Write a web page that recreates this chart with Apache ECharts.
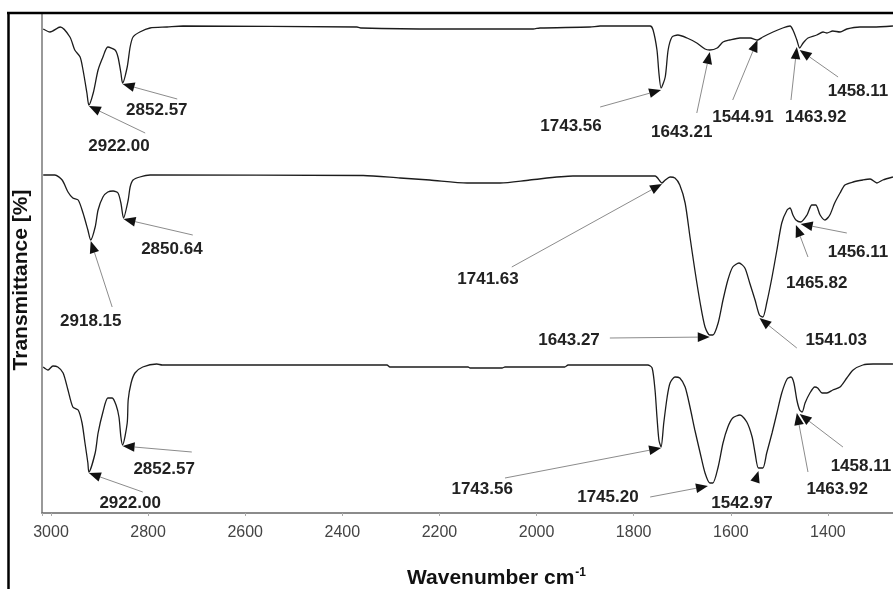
<!DOCTYPE html>
<html>
<head>
<meta charset="utf-8">
<script src="https://cdn.jsdelivr.net/npm/echarts@6/dist/echarts.min.js"></script>
<style>
  html, body { margin: 0; padding: 0; background: #fff; }
  #chart { width: 893px; height: 589px; }
</style>
</head>
<body>
<div id="chart"></div>
<script>
// FTIR spectra: three samples stacked with vertical offsets (wavenumber in cm-1, transmittance in display units)
const topWn = [3016, 3002, 2981, 2961, 2951, 2940, 2934, 2926, 2922.00, 2913, 2903, 2893, 2883, 2868, 2862, 2856, 2852.57, 2843, 2837, 2831, 2817, 2796, 2761, 2728, 2370, 2360, 2205, 2007, 1993, 1890, 1869, 1766, 1760, 1752, 1748, 1743.56, 1735, 1729, 1721, 1709, 1690, 1670, 1653, 1643.21, 1628, 1616, 1602, 1581, 1560, 1544.91, 1534, 1513, 1493, 1478, 1472, 1463.92, 1458.11, 1451, 1441, 1423, 1410, 1402, 1390, 1375, 1361, 1334, 1307, 1266];
const topT  = [96.8, 96.2, 97.2, 95.2, 92.6, 91.2, 88.6, 84.0, 81.6, 84.0, 88.6, 91.2, 93.2, 92.6, 91.2, 88.0, 86.0, 89.2, 93.2, 95.2, 96.2, 97.0, 97.2, 97.4, 97.2, 97.0, 96.8, 96.8, 97.0, 97.2, 97.4, 97.4, 96.6, 92.6, 88.0, 85.0, 87.2, 92.6, 95.2, 95.6, 95.0, 94.0, 92.8, 92.6, 93.0, 94.2, 94.6, 95.0, 95.0, 94.6, 95.2, 96.2, 97.0, 97.4, 96.6, 94.6, 93.0, 94.0, 95.0, 95.6, 96.2, 96.0, 96.4, 96.2, 96.8, 97.2, 97.2, 97.4];

const midWn = [3016, 2992, 2977, 2965, 2955, 2944, 2934, 2924, 2918.15, 2909, 2903, 2893, 2883, 2872, 2862, 2856, 2850.64, 2841, 2837, 2831, 2817, 2796, 2357, 2281, 2220, 2143, 2075, 2014, 1925, 1756, 1741.63, 1735, 1725, 1715, 1705, 1694, 1684, 1674, 1663, 1653, 1643.27, 1637, 1626, 1616, 1606, 1596, 1583, 1571, 1561, 1550, 1541.03, 1534, 1526, 1515, 1505, 1495, 1484, 1478, 1472, 1465.82, 1456.11, 1443, 1433, 1425, 1416, 1406, 1396, 1386, 1375, 1365, 1348, 1328, 1313, 1299, 1287, 1266];
const midT  = [67.6, 67.6, 66.6, 64.2, 63.0, 62.6, 60.0, 56.6, 54.6, 57.2, 60.6, 63.2, 64.2, 64.4, 64.0, 62.0, 59.0, 62.6, 65.2, 66.6, 67.2, 67.6, 67.5, 67.0, 66.6, 66.0, 66.0, 66.6, 67.4, 67.4, 66.0, 66.6, 67.2, 67.0, 65.6, 62.0, 55.2, 48.6, 42.0, 37.2, 35.6, 35.6, 38.0, 42.6, 46.6, 49.2, 50.0, 49.0, 46.0, 42.6, 39.6, 39.2, 42.0, 47.2, 52.6, 58.0, 60.6, 61.0, 59.6, 58.6, 58.2, 59.6, 61.6, 61.6, 59.6, 58.6, 59.6, 62.0, 64.0, 65.6, 66.2, 66.6, 66.8, 66.0, 66.6, 67.2];

const botWn = [3016, 3006, 2996, 2986, 2975, 2965, 2955, 2944, 2936, 2930, 2924, 2922.00, 2909, 2903, 2893, 2883, 2874, 2866, 2860, 2856, 2852.57, 2843, 2841, 2835, 2827, 2811, 2782, 2771, 2308, 2302, 2141, 2137, 2071, 2065, 1942, 1935, 1771, 1762, 1756, 1752, 1748, 1743.56, 1738, 1731, 1725, 1715, 1705, 1694, 1684, 1674, 1663, 1653, 1643, 1637, 1626, 1616, 1606, 1596, 1581, 1567, 1556, 1550, 1542.97, 1534, 1526, 1515, 1505, 1495, 1484, 1476, 1470, 1463.92, 1458.11, 1453, 1447, 1437, 1427, 1421, 1412, 1402, 1390, 1375, 1361, 1348, 1328, 1307, 1266];
const botT  = [29.2, 28.6, 29.4, 29.2, 28.0, 24.6, 21.2, 20.6, 18.0, 14.0, 10.0, 8.2, 12.0, 16.0, 20.2, 23.0, 23.0, 21.6, 19.2, 15.2, 13.6, 18.0, 22.6, 26.0, 28.0, 29.2, 29.8, 29.6, 29.6, 29.2, 29.2, 29.0, 29.0, 29.2, 29.2, 29.6, 29.6, 29.0, 24.6, 19.2, 14.6, 13.2, 18.0, 23.2, 26.0, 27.2, 27.0, 25.2, 21.2, 16.6, 12.0, 8.0, 6.0, 6.0, 9.2, 14.0, 17.2, 19.0, 19.6, 18.2, 15.2, 12.0, 9.0, 9.0, 12.0, 16.0, 20.0, 24.0, 26.8, 27.2, 26.0, 22.6, 20.6, 20.2, 22.0, 24.0, 25.2, 25.0, 24.0, 24.0, 24.6, 25.2, 27.0, 28.6, 29.6, 29.8, 29.8];

// Peak callouts: label text, arrow tip, arrow tail and label anchor (all in axis units)
const calloutText = ['2922.00', '2852.57', '1743.56', '1643.21', '1544.91', '1463.92', '1458.11',
                     '2918.15', '2850.64', '1741.63', '1643.27', '1541.03', '1465.82', '1456.11',
                     '2922.00', '2852.57', '1743.56', '1745.20', '1542.97', '1463.92', '1458.11'];
const tipWn  = [2922.00, 2852.57, 1743.56, 1643.21, 1544.91, 1463.92, 1458.11, 2918.15, 2850.64, 1741.63, 1643.27, 1541.03, 1465.82, 1456.11, 2922.00, 2852.57, 1743.56, 1647, 1542.97, 1463.92, 1458.11];
const tipT   = [81.4, 85.8, 84.6, 92.2, 94.6, 93.2, 92.6, 54.4, 58.8, 65.8, 35.2, 39.0, 57.6, 57.8, 8.0, 13.4, 13.0, 5.4, 8.4, 20.0, 19.8];
const tailWn = [2806, 2740, 1869, 1670, 1596, 1476, 1379, 2874, 2708, 2051, 1849, 1464, 1441, 1361, 2811, 2710, 2065, 1766, 1550, 1441, 1369];
const tailT  = [76.0, 82.8, 81.2, 80.0, 82.6, 82.6, 87.2, 41.2, 55.6, 49.2, 35.0, 33.0, 51.2, 56.0, 4.2, 12.2, 7.0, 3.2, 6.2, 8.2, 13.2];
const textWn = [2860, 2782, 1929, 1701, 1575, 1425, 1338, 2918, 2751, 2100, 1933, 1383, 1423, 1338, 2837, 2767, 2112, 1853, 1577, 1381, 1332];
const textT  = [73.4, 80.6, 77.4, 76.2, 79.2, 79.2, 84.4, 38.4, 52.8, 46.8, 34.6, 34.6, 46.0, 52.2, 2.0, 8.8, 4.8, 3.2, 2.0, 4.8, 9.4];

const xTickStep = 200;

const pairs = (xs, ys) => xs.map((x, i) => [x, ys[i]]);

function spectrum(name, xs, ys) {
  return {
    name: name,
    type: 'line',
    data: pairs(xs, ys),
    showSymbol: false,
    smooth: 0.25,
    lineStyle: { color: '#1c1c1c', width: 1.3 },
    silent: true,
    z: 3
  };
}

function renderCallout(params, api) {
  const tip = api.coord([api.value(0), api.value(1)]);
  const tail = api.coord([api.value(2), api.value(3)]);
  const at = api.coord([api.value(4), api.value(5)]);
  const dx = tip[0] - tail[0], dy = tip[1] - tail[1];
  const len = Math.hypot(dx, dy) || 1;
  const ux = dx / len, uy = dy / len;
  const headLen = Math.min(12, len), headHalf = 4.8;
  const bx = tip[0] - ux * headLen, by = tip[1] - uy * headLen;
  return {
    type: 'group',
    children: [
      { type: 'line', shape: { x1: tail[0], y1: tail[1], x2: bx, y2: by },
        style: { stroke: '#8c8c8c', lineWidth: 1 } },
      { type: 'polygon',
        shape: { points: [tip, [bx - uy * headHalf, by + ux * headHalf], [bx + uy * headHalf, by - ux * headHalf]] },
        style: { fill: '#111' } },
      { type: 'text', x: at[0], y: at[1],
        style: { text: calloutText[params.dataIndex], x: 0, y: 0, align: 'center', verticalAlign: 'middle',
                 font: 'bold 17px "Liberation Sans", Arial, sans-serif', fill: '#222' } }
    ]
  };
}

const chart = echarts.init(document.getElementById('chart'), null, { renderer: 'canvas' });
chart.setOption({
  animation: false,
  backgroundColor: '#fff',
  grid: { left: 42, top: 13, width: 883, height: 500, containLabel: false, outerBoundsMode: 'none' },
  xAxis: {
    type: 'value',
    inverse: true,
    min: 1200,
    max: 3018.5,
    interval: xTickStep,
    name: '{t|Wavenumber cm}{s|-1}',
    nameLocation: 'middle',
    nameGap: 54,
    nameTextStyle: {
      padding: [0, 0, 0, 26],
      rich: {
        t: { fontSize: 21, fontWeight: 'bold', color: '#111', fontFamily: '"Liberation Sans", Arial, sans-serif' },
        s: { fontSize: 12, fontWeight: 'bold', color: '#111', fontFamily: '"Liberation Sans", Arial, sans-serif', padding: [0, 0, 10, 1] }
      }
    },
    axisLine: { show: true, lineStyle: { color: '#666', width: 1.5 } },
    axisTick: { show: true, length: 3, lineStyle: { color: '#aaa' } },
    splitLine: { show: false },
    axisLabel: {
      margin: 12,
      fontSize: 16,
      color: '#444',
      fontFamily: '"Liberation Sans", Arial, sans-serif',
      formatter: v => (Math.abs(v % xTickStep) < 1e-6 ? String(v) : '')
    }
  },
  yAxis: {
    type: 'value',
    min: 0,
    max: 100,
    name: 'Transmittance [%]',
    nameLocation: 'middle',
    nameRotate: 90,
    nameGap: 10,
    nameTextStyle: {
      fontSize: 21, fontWeight: 'bold', color: '#111',
      fontFamily: '"Liberation Sans", Arial, sans-serif',
      padding: [0, 34, 0, 0]
    },
    axisLine: { show: true, lineStyle: { color: '#777', width: 1.5 } },
    axisTick: { show: false },
    axisLabel: { show: false },
    splitLine: { show: false }
  },
  graphic: [
    { type: 'line', shape: { x1: 7, y1: 13, x2: 893, y2: 13 }, style: { stroke: '#000', lineWidth: 2.5 }, z: 10 },
    { type: 'line', shape: { x1: 8.5, y1: 12, x2: 8.5, y2: 589 }, style: { stroke: '#000', lineWidth: 2.5 }, z: 10 }
  ],
  series: [
    spectrum('A', topWn, topT),
    spectrum('B', midWn, midT),
    spectrum('C', botWn, botT),
    {
      name: 'peaks',
      type: 'custom',
      data: tipWn.map((w, i) => [w, tipT[i], tailWn[i], tailT[i], textWn[i], textT[i]]),
      encode: { x: [0, 2, 4], y: [1, 3, 5] },
      renderItem: renderCallout,
      clip: false,
      silent: true,
      z: 5
    }
  ]
});
</script>
</body>
</html>
